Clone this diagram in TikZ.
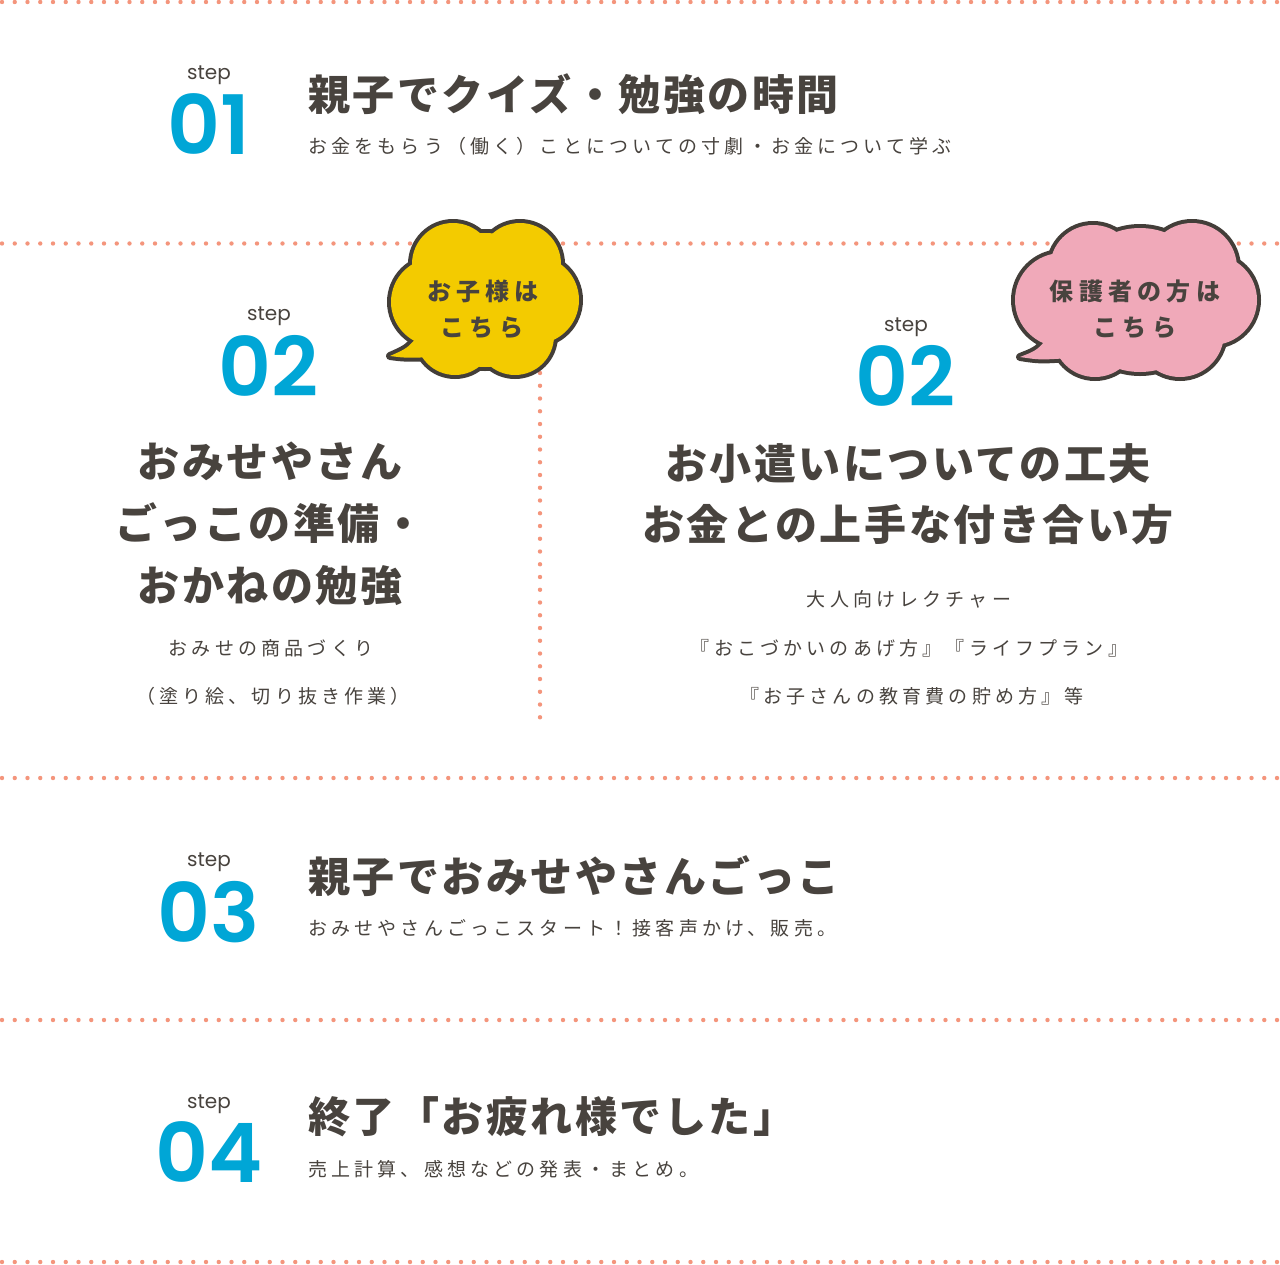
\documentclass[tikz,border=0pt]{standalone}
\usepackage{fontspec}
\newfontfamily\jphead[LetterSpace=6]{Noto Sans CJK JP}
\newfontfamily\jpsub[LetterSpace=22]{Noto Sans CJK JP}
\newfontfamily\jpbubble[LetterSpace=22]{Noto Sans CJK JP}
\newfontfamily\numfont[BoldFont={Poppins SemiBold}]{Poppins}
\definecolor{xtext}{HTML}{48433E}
\definecolor{xblue}{HTML}{00A6D6}
\definecolor{xdot}{HTML}{F4957C}
\definecolor{xline}{HTML}{433E39}
\definecolor{xyellow}{HTML}{F3CB00}
\definecolor{xpink}{HTML}{F0A9B9}
\tikzset{
  dotline/.style = {draw=xdot, line width=4.4pt, line cap=round, dash pattern=on 0pt off 12.75pt},
  steptag/.style = {text=xtext, font=\numfont\fontsize{20}{20}\selectfont, anchor=base, inner sep=0pt},
  stepnum/.style = {text=xblue, font=\numfont\bfseries\fontsize{82}{82}\selectfont, anchor=base, inner sep=0pt},
  headline/.style = {text=xtext, font=\jphead\bfseries\fontsize{42}{42}\selectfont, anchor=base west, inner sep=0pt},
  subline/.style = {text=xtext, font=\jpsub\fontsize{19}{19}\selectfont, anchor=base west, inner sep=0pt},
  bubbletext/.style = {text=xtext, font=\jpbubble\bfseries\fontsize{24}{24}\selectfont, anchor=base, inner sep=0pt},
  bubbleline/.style = {draw=xline, fill=xline, line width=8pt, line join=round},
}
\begin{document}
\begin{tikzpicture}[x=1pt, y=-1pt]
  \fill[white] (0,0) rectangle (1280,1264);
  \useasboundingbox (0,0) rectangle (1280,1264);

  % dotted separators
  \foreach \y in {2, 243.5, 778, 1020, 1262}
    \draw[dotline] (2,\y) -- (1280,\y);
  \draw[dotline] (540,373) -- (540,718);

  % kids bubble
  \foreach \cx/\cy/\r in {453/264/41, 520/264/41, 485/300/67, 435/302/44, 535/300/44, 455/336/39, 515/336/39}
    \filldraw[bubbleline] (\cx,\cy) circle (\r pt);
  \filldraw[bubbleline] (420,333) .. controls (408,348) .. (390,356) .. controls (405,358) .. (437,357) -- cycle;
  \foreach \cx/\cy/\r in {453/264/41, 520/264/41, 485/300/67, 435/302/44, 535/300/44, 455/336/39, 515/336/39}
    \fill[xyellow] (\cx,\cy) circle (\r pt);
  \fill[xyellow] (420,333) .. controls (408,348) .. (390,356) .. controls (405,358) .. (437,357) -- cycle;
  \node[bubbletext] (kids1) at (483,300) {お子様は};
  \node[bubbletext] (kids2) at (482,336) {こちら};

  % parents bubble
  \foreach \cx/\cy/\r in {1093/268/43, 1192/268/45, 1140/300/72, 1062/300/47, 1212/300/45, 1095/335/42, 1180/333/44}
    \filldraw[bubbleline] (\cx,\cy) circle (\r pt);
  \filldraw[bubbleline] (1052,332) .. controls (1038,350) .. (1020,357) .. controls (1040,360) .. (1070,358) -- cycle;
  \foreach \cx/\cy/\r in {1093/268/43, 1192/268/45, 1140/300/72, 1062/300/47, 1212/300/45, 1095/335/42, 1180/333/44}
    \fill[xpink] (\cx,\cy) circle (\r pt);
  \fill[xpink] (1052,332) .. controls (1038,350) .. (1020,357) .. controls (1040,360) .. (1070,358) -- cycle;
  \node[bubbletext] (parents1) at (1135,300) {保護者の方は};
  \node[bubbletext] (parents2) at (1135,336) {こちら};

  % step 01
  \node[steptag] (tag1) at (209,79) {step};
  \node[stepnum] (num1) at (209,154) {01};
  \node[headline] (head1) at (308,110) {親子でクイズ・勉強の時間};
  \node[subline] (sub1) at (308,153) {お金をもらう（働く）ことについての寸劇・お金について学ぶ};

  % step 02, kids
  \node[steptag] (tag2k) at (269,320) {step};
  \node[stepnum] (num2k) at (269,396) {02};
  \node[headline, anchor=base] (head2k1) at (270,477) {おみせやさん};
  \node[headline, anchor=base] (head2k2) at (270,539) {ごっこの準備・};
  \node[headline, anchor=base] (head2k3) at (270,601) {おかねの勉強};
  \node[subline, anchor=base] (sub2k1) at (271,655) {おみせの商品づくり};
  \node[subline, anchor=base] (sub2k2) at (273,703) {（塗り絵、切り抜き作業）};

  % step 02, parents
  \node[steptag] (tag2p) at (906,331) {step};
  \node[stepnum] (num2p) at (906,406) {02};
  \node[headline, anchor=base] (head2p1) at (908,479) {お小遣いについての工夫};
  \node[headline, anchor=base] (head2p2) at (908,540) {お金との上手な付き合い方};
  \node[subline, anchor=base] (sub2p1) at (909,606) {大人向けレクチャー};
  \node[subline, anchor=base] (sub2p2) at (909,655) {『おこづかいのあげ方』『ライフプラン』};
  \node[subline, anchor=base] (sub2p3) at (912,703) {『お子さんの教育費の貯め方』等};

  % step 03
  \node[steptag] (tag3) at (209,866) {step};
  \node[stepnum] (num3) at (209,942) {03};
  \node[headline] (head3) at (308,892) {親子でおみせやさんごっこ};
  \node[subline] (sub3) at (308,935) {おみせやさんごっこスタート！接客声かけ、販売。};

  % step 04
  \node[steptag] (tag4) at (209,1108) {step};
  \node[stepnum] (num4) at (209,1182) {04};
  \node[headline] (head4) at (308,1132) {終了「お疲れ様でした」};
  \node[subline] (sub4) at (308,1176) {売上計算、感想などの発表・まとめ。};
\end{tikzpicture}
\end{document}
